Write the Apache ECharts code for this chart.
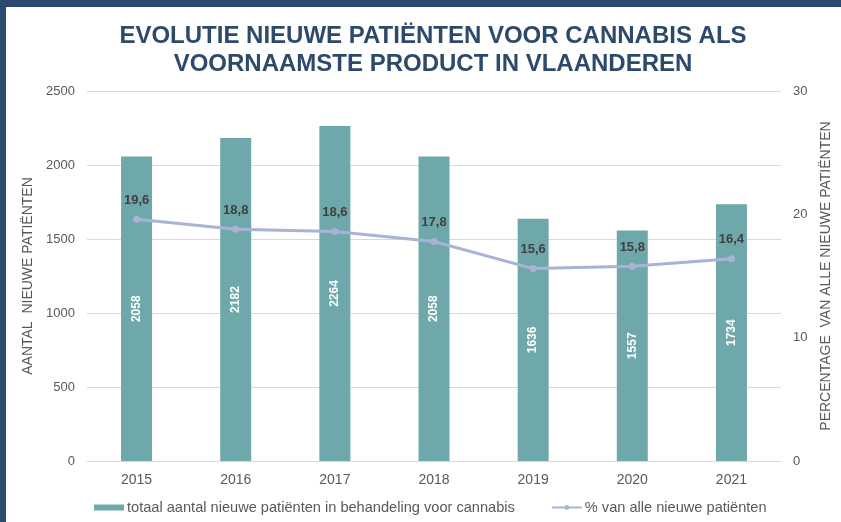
<!DOCTYPE html>
<html>
<head>
<meta charset="utf-8">
<script src="https://cdn.jsdelivr.net/npm/echarts@6/dist/echarts.min.js"></script>
<style>
  html, body { margin: 0; padding: 0; background: #fff; }
  #main { width: 841px; height: 522px; }
</style>
</head>
<body>
<div id="main"></div>
<script>
var chartDom = document.getElementById('main')
var myChart = echarts.init(chartDom)
var option

const years = ['2015', '2016', '2017', '2018', '2019', '2020', '2021']
const patients = [2058, 2182, 2264, 2058, 1636, 1557, 1734]
const percent = [19.6, 18.8, 18.6, 17.8, 15.6, 15.8, 16.4]

const FONT = '"Liberation Sans", Arial, sans-serif'
const GREY = '#595959'

option = {
  textStyle: { fontFamily: FONT },
  graphic: [
    { type: 'rect', shape: { x: 0, y: 0, width: 841, height: 7 }, style: { fill: '#2b4a6f' } },
    { type: 'rect', shape: { x: 0, y: 0, width: 6, height: 522 }, style: { fill: '#2b4a6f' } }
  ],
  title: {
    text: 'EVOLUTIE NIEUWE PATIËNTEN VOOR CANNABIS ALS\nVOORNAAMSTE PRODUCT IN VLAANDEREN',
    left: 428,
    textAlign: 'center',
    top: 17,
    textStyle: {
      fontFamily: FONT,
      fontSize: 24,
      fontWeight: 'bold',
      color: '#2e4a6b',
      lineHeight: 28
    }
  },
  legend: {
    bottom: 2,
    left: 89,
    itemGap: 36,
    itemWidth: 30,
    itemHeight: 6,
    textStyle: { color: GREY, fontSize: 14.6, fontFamily: FONT, padding: [0, 0, 0, -2] },
    data: [
      { name: 'totaal aantal nieuwe patiënten in behandeling voor cannabis', icon: 'rect' },
      { name: '% van alle nieuwe patiënten' }
    ]
  },
  grid: {
    left: 87,
    right: 55,
    top: 91,
    bottom: 61
  },
  xAxis: {
    type: 'category',
    data: years,
    axisTick: { show: false },
    axisLine: { lineStyle: { color: '#d9d9d9' } },
    axisLabel: { color: GREY, fontSize: 14, margin: 12 }
  },
  yAxis: [
    {
      type: 'value',
      min: 0,
      max: 2500,
      interval: 500,
      name: 'AANTAL  NIEUWE PATIËNTEN',
      nameLocation: 'middle',
      nameRotate: 90,
      nameGap: 48,
      nameTextStyle: { color: GREY, fontSize: 14 },
      axisLabel: { color: GREY, fontSize: 13, margin: 12, formatter: v => String(v) },
      splitLine: { lineStyle: { color: '#d9d9d9' } }
    },
    {
      type: 'value',
      min: 0,
      max: 30,
      interval: 10,
      name: 'PERCENTAGE  VAN ALLE NIEUWE PATIËNTEN',
      nameLocation: 'middle',
      nameRotate: 90,
      nameGap: 38,
      nameTextStyle: { color: GREY, fontSize: 14 },
      axisLabel: { color: GREY, fontSize: 13, margin: 12 },
      splitLine: { show: false }
    }
  ],
  series: [
    {
      name: 'totaal aantal nieuwe patiënten in behandeling voor cannabis',
      type: 'bar',
      barWidth: 31,
      data: patients,
      itemStyle: { color: '#6fa8aa' },
      label: {
        show: true,
        position: 'inside',
        rotate: 90,
        color: '#fff',
        fontWeight: 'bold',
        fontSize: 12
      }
    },
    {
      name: '% van alle nieuwe patiënten',
      type: 'line',
      yAxisIndex: 1,
      data: percent,
      symbol: 'circle',
      symbolSize: 7,
      lineStyle: { color: '#a9b3d6', width: 3 },
      itemStyle: { color: '#a9b3d6' },
      label: {
        show: true,
        position: 'top',
        distance: 9,
        color: '#404040',
        fontWeight: 'bold',
        fontSize: 13,
        formatter: p => String(p.value).replace('.', ',')
      }
    }
  ]
}

option && myChart.setOption(option)
</script>
</body>
</html>
